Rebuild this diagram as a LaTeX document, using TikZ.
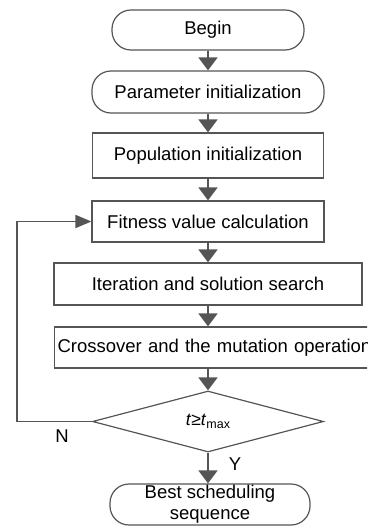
\documentclass[tikz,border=0pt]{standalone}
\usepackage{fontspec}
\setmainfont{Liberation Sans}
\usetikzlibrary{arrows.meta,shapes.geometric}
\definecolor{ln}{HTML}{555555}
\begin{document}
\begin{tikzpicture}[x=1pt,y=-1pt,
  base/.style={draw=ln,line width=1.2pt,font=\fontsize{18.5}{21}\selectfont,inner sep=0pt,text=black},
  term/.style={base,rounded corners=19pt},
  proc/.style={base},
  dec/.style={base,diamond,font=\fontsize{17.5}{19}\selectfont},
  conn/.style={draw=ln,line width=1.8pt,-{Triangle[width=19pt,length=13pt]}},
  back/.style={draw=ln,line width=1.8pt,-{Triangle[width=13pt,length=16pt]}},
  lbl/.style={font=\fontsize{18.5}{21}\selectfont}]
\useasboundingbox (0,0) rectangle (367,527);
\clip (0,0) rectangle (367,527);
\node[term,minimum width=192pt,minimum height=40pt] (begin) at (208,30) {Begin};
\node[term,minimum width=232pt,minimum height=42pt] (param) at (208,92) {Parameter initialization};
\node[proc,minimum width=231pt,minimum height=45pt] (pop) at (208,155.5) {Population initialization};
\node[proc,minimum width=232pt,minimum height=41pt] (fit) at (208,221.5) {Fitness value calculation};
\node[proc,minimum width=308pt,minimum height=42pt] (iter) at (208,284) {Iteration and solution search};
\node[proc,minimum height=41pt,text width=315pt,inner xsep=3pt,align=left,anchor=west] (cross) at (54,347.5) {Crossover and the mutation operation};
\node[dec,minimum width=231pt,minimum height=61pt] (dec) at (208,421.5) {\textit{t}≥\textit{t}\raisebox{-0.35ex}{\fontsize{12.5}{13}\selectfont max}};
\node[term,minimum width=200pt,minimum height=41pt,align=center] (best) at (210,504.5) {Best scheduling\\sequence};
\coordinate (lp) at (17,421.5);
\draw[conn] (begin.south) -- (param.north);
\draw[conn] (param.south) -- (pop.north);
\draw[conn] (pop.south) -- (fit.north);
\draw[conn] (fit.south) -- (iter.north);
\draw[conn] (iter.south) -- (cross.north -| iter.south);
\draw[conn] (cross.south -| dec.north) -- (dec.north);
\draw[conn] (dec.south) -- (dec.south |- best.north);
\draw[back] (dec.west) -- (lp) |- (fit.west);
\node[lbl] (n) at (62,436) {N};
\node[lbl] (y) at (235,464) {Y};
\end{tikzpicture}
\end{document}
